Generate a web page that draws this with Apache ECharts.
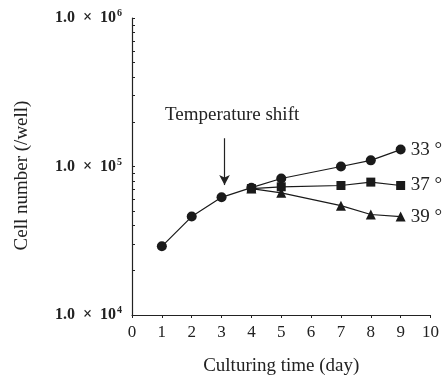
<!DOCTYPE html>
<html>
<head>
<meta charset="utf-8">
<script src="https://cdn.jsdelivr.net/npm/echarts@6/dist/echarts.min.js"></script>
<style>
  html, body { margin: 0; padding: 0; background: #fff; }
  #chart { width: 442px; height: 381px; }
</style>
</head>
<body>
<div id="chart"></div>
<script>
// 数据
const days33 = [1, 2, 3, 4, 5, 7, 8, 9];
const cells33 = [29000, 46000, 62000, 72000, 83000, 100000, 110000, 130000];
const days37 = [4, 5, 7, 8, 9];
const cells37 = [71000, 73000, 74500, 78500, 74500];
const days39 = [4, 5, 7, 8, 9];
const cells39 = [71000, 66500, 54500, 47500, 46000];
const seriesNames = ['33 °C', '37 °C', '39 °C'];
const yMajor = [10000, 100000, 1000000];
const yTicks = [10000, 20000, 30000, 40000, 50000, 60000, 70000, 80000, 90000,
  100000, 200000, 300000, 400000, 500000, 600000, 700000, 800000, 900000, 1000000];
const shiftDay = 3.1;
const arrowFrom = 155000, arrowTo = 75000;

const serif = 'Liberation Serif';

function pairs(xs, ys) {
  return xs.map((x, i) => [x, ys[i]]);
}

function lineSeries(name, data, symbol, size) {
  return {
    name: name,
    type: 'line',
    data: data,
    symbol: symbol,
    symbolSize: size,
    itemStyle: { color: '#1a1a1a' },
    lineStyle: { color: '#1a1a1a', width: 1.2 },
    endLabel: {
      show: true,
      formatter: name,
      distance: 10,
      fontFamily: serif,
      fontSize: 19,
      color: '#222'
    },
    animation: false
  };
}

let chart = echarts.init(document.getElementById('chart'));
const option = {
  backgroundColor: '#fff',
  grid: { left: 132, right: 10, top: 18, bottom: 65 },
  xAxis: {
    type: 'value',
    min: 0,
    max: 10,
    interval: 1,
    name: 'Culturing time (day)',
    nameLocation: 'middle',
    nameGap: 42,
    nameTextStyle: { fontFamily: serif, fontSize: 19, color: '#222' },
    axisLine: { lineStyle: { color: '#222', width: 1.2 } },
    axisTick: { show: true, length: 3, lineStyle: { color: '#222' } },
    axisLabel: { fontFamily: serif, fontSize: 17, color: '#222', margin: 9 },
    splitLine: { show: false }
  },
  yAxis: {
    type: 'log',
    logBase: 10,
    min: 10000,
    max: 1000000,
    name: 'Cell number (/well)',
    nameLocation: 'middle',
    nameGap: 100,
    nameTextStyle: { fontFamily: serif, fontSize: 19, color: '#222', padding: [0, 18, 0, 0] },
    axisLine: { show: true, lineStyle: { color: '#222', width: 1.2 } },
    axisTick: { show: true, inside: true, length: 3, customValues: yTicks, lineStyle: { color: '#222' } },
    axisLabel: {
      customValues: yMajor,
      margin: 10,
      formatter: function (v) {
        const e = Math.round(Math.log10(v));
        return '{a|1.0\u2002×\u200210}{b|' + e + '}';
      },
      rich: {
        a: { fontFamily: serif, fontSize: 16, fontWeight: 'bold', color: '#222' },
        b: { fontFamily: serif, fontSize: 10, fontWeight: 'bold', color: '#222', verticalAlign: 'top', padding: [0, 0, 9, 1] }
      }
    },
    splitLine: { show: false }
  },
  graphic: [
    {
      type: 'text',
      left: 165,
      top: 106,
      style: { text: 'Temperature shift', font: '19px "Liberation Serif"', fill: '#222' }
    }
  ],
  series: [
    Object.assign(lineSeries(seriesNames[0], pairs(days33, cells33), 'circle', 10), {
      markLine: {
        silent: true,
        symbol: ['none', 'arrow'],
        symbolSize: [8, 10],
        label: { show: false },
        lineStyle: { color: '#222', width: 1.2, type: 'solid' },
        data: [[{ coord: [shiftDay, arrowFrom] }, { coord: [shiftDay, arrowTo] }]]
      }
    }),
    lineSeries(seriesNames[1], pairs(days37, cells37), 'rect', 9),
    lineSeries(seriesNames[2], pairs(days39, cells39), 'triangle', 10)
  ]
};
chart.setOption(option);
</script>
</body>
</html>
